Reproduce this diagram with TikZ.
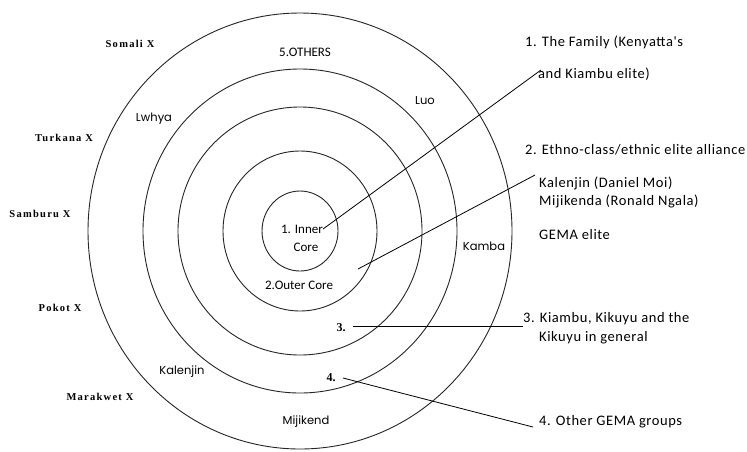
\documentclass[tikz,border=0pt]{standalone}
\usepackage{fontspec}
\setmainfont{Liberation Serif}
\newfontfamily\leftfont[LetterSpace=12]{Liberation Serif}
\newfontfamily\ringfont{Poppins}
\newfontfamily\notefont[LetterSpace=4]{Carlito}
\newfontfamily\corefont{Carlito}
\begin{document}
\begin{tikzpicture}[x=1pt,y=-1pt,
  ring/.style={draw=black!85,line width=0.9pt},
  conn/.style={draw=black,line width=0.8pt},
  outer/.style={font=\leftfont\bfseries\fontsize{10.5}{12}\selectfont,inner sep=0pt},
  ringlbl/.style={font=\ringfont\fontsize{11.5}{13}\selectfont,inner sep=0pt},
  corelbl/.style={font=\corefont\fontsize{13}{15}\selectfont,inner sep=0pt},
  numlbl/.style={font=\bfseries\fontsize{12}{14}\selectfont,inner sep=0pt},
  note/.style={font=\notefont\fontsize{14.5}{16}\selectfont,inner sep=0pt,anchor=west}]
\useasboundingbox[fill=white] (0,0) rectangle (747,451);
% rings
\coordinate (c) at (300,231);
\draw[ring] (c) ellipse [x radius=38, y radius=40];
\draw[ring] (c) ellipse [x radius=77, y radius=80];
\draw[ring] (c) ellipse [x radius=122, y radius=124];
\draw[ring] (c) ellipse [x radius=157, y radius=162];
\draw[ring] (c) ellipse [x radius=212, y radius=218];
% outer groups
\node[outer] (somali) at (130,44) {Somali X};
\node[outer] (turkana) at (64,138) {Turkana X};
\node[outer] (samburu) at (40,214) {Samburu X};
\node[outer] (pokot) at (60,308) {Pokot X};
\node[outer] (marakwet) at (100,397) {Marakwet X};
% ring labels
\node[corelbl] (others) at (305,52) {5.OTHERS};
\node[ringlbl] (lwhya) at (154,119) {Lwhya};
\node[ringlbl] (luo) at (425,101) {Luo};
\node[ringlbl] (kamba) at (484,246) {Kamba};
\node[ringlbl] (kalenjin) at (182,372) {Kalenjin};
\node[ringlbl] (mijikend) at (306,422) {Mijikend};
\node[corelbl] (inner) at (302,229) {1. Inner};
\node[corelbl] (core) at (306,247) {Core};
\node[corelbl] (outercore) at (299,285) {2.Outer Core};
\node[numlbl] (three) at (341,328) {3.};
\node[numlbl] (four) at (331,378) {4.};
% notes
\node[note] (n1a) at (525,42) {1. The Family (Kenyatta's};
\node[note] (n1b) at (538,74) {and Kiambu elite)};
\node[note] (n2a) at (525,150) {2. Ethno-class/ethnic elite alliance};
\node[note] (n2b) at (539,183) {Kalenjin (Daniel Moi)};
\node[note] (n2c) at (539,201) {Mijikenda (Ronald Ngala)};
\node[note] (n2d) at (539,235) {GEMA elite};
\node[note] (n3a) at (523,319) {3. Kiambu, Kikuyu and the};
\node[note] (n3b) at (539,338) {Kikuyu in general};
\node[note] (n4) at (539,422) {4. Other GEMA groups};
% connectors
\coordinate (s2) at (358,269);
\coordinate (e2) at (535,175);
\coordinate (s3) at (353,326);
\coordinate (s4) at (343,378);
\coordinate (e4) at (533,427);
\coordinate (e1) at (541,70);
\draw[conn] (inner.east) -- (e1);
\draw[conn] (s2) -- (e2);
\draw[conn] (s3) -- (n3a.west |- s3);
\draw[conn] (s4) -- (e4);
\end{tikzpicture}
\end{document}
